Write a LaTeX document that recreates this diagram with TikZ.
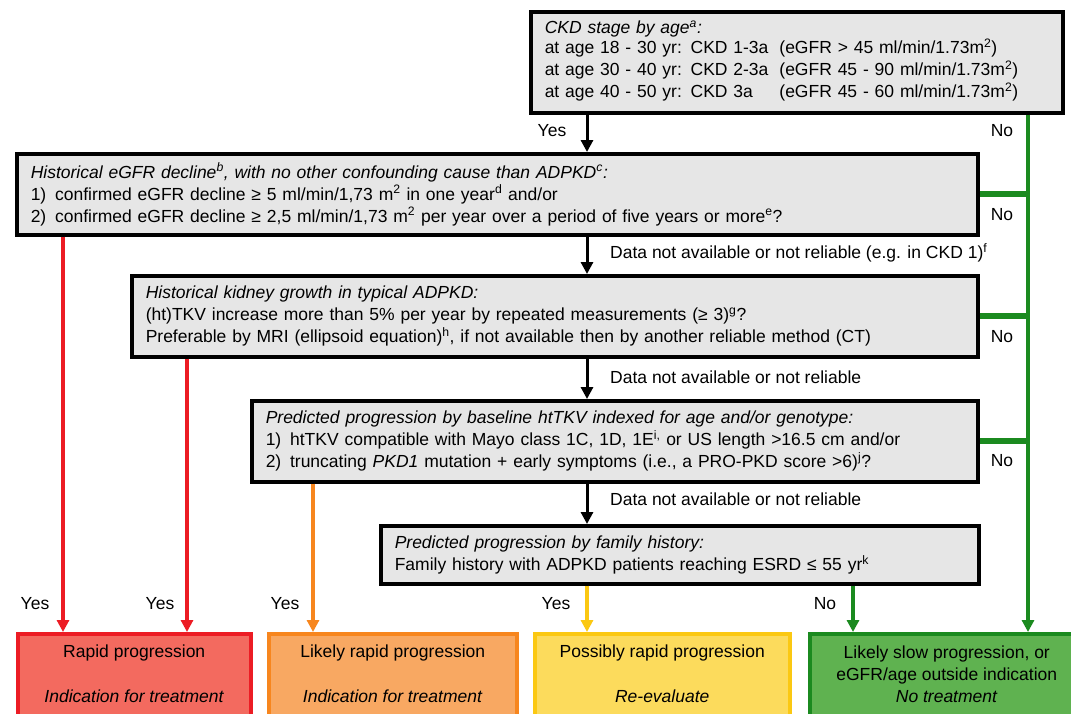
\documentclass[tikz,border=0pt]{standalone}
\usepackage{fontspec}
\setmainfont{Liberation Sans}
\usetikzlibrary{arrows.meta,positioning}
\definecolor{boxgray}{HTML}{E6E6E6}
\definecolor{redline}{HTML}{EC1C24}
\definecolor{redfill}{HTML}{F36A5F}
\definecolor{orline}{HTML}{F7861E}
\definecolor{orfill}{HTML}{F8A862}
\definecolor{yelline}{HTML}{FBC812}
\definecolor{yelfill}{HTML}{FCDB5C}
\definecolor{grline}{HTML}{1B8A1F}
\definecolor{grfill}{HTML}{5FB250}
\newcommand{\fn}[1]{\textsuperscript{#1}}
\newcommand{\lift}{\rule[-7pt]{0pt}{0pt}}

\begin{document}
\begin{tikzpicture}[x=1pt,y=-1pt,
  font=\fontsize{17.5}{22}\selectfont,
  qbox/.style={draw, line width=3.5pt, fill=boxgray, anchor=north west,
    align=left, inner xsep=14pt},
  outbox/.style={draw, line width=3.5pt, anchor=north west, align=center,
    minimum height=87pt},
  lbl/.style={inner sep=1pt},
  blk/.style={line width=3pt, -{Triangle[width=12pt,length=12pt]}},
  colarr/.style={draw=#1, line width=3.5pt, -{Triangle[width=12pt,length=12pt]}},
  branch/.style={grline, line width=6pt}]
\clip (0,0) rectangle (1071,713);
% decision boxes
\node[qbox, text width=504pt, minimum height=101pt] (ckd) at (529,10)
  {\textit{CKD stage by age\fn{a}:}\\
   \begin{tabular}{@{}l@{\hspace{11pt}}l@{}}
   at age 18 - 30 yr: CKD 1-3a & (eGFR > 45 ml/min/1.73m\fn{2})\\
   at age 30 - 40 yr: CKD 2-3a & (eGFR 45 - 90 ml/min/1.73m\fn{2})\\
   at age 40 - 50 yr: CKD 3a & (eGFR 45 - 60 ml/min/1.73m\fn{2})
   \end{tabular}};
\node[qbox, text width=933pt, minimum height=81pt] (hist) at (15,152)
  {\textit{Historical eGFR decline\fn{b}, with no other confounding cause than ADPKD\fn{c}:}\\
   1)\enspace confirmed eGFR decline ≥ 5 ml/min/1,73 m\fn{2} in one year\fn{d} and/or\\
   2)\enspace confirmed eGFR decline ≥ 2,5 ml/min/1,73 m\fn{2} per year over a period of five years or more\fn{e}?};
\node[qbox, text width=818pt, minimum height=81pt] (growth) at (130,274)
  {\textit{Historical kidney growth in typical ADPKD:}\\
   (ht)TKV increase more than 5\% per year by repeated measurements (≥ 3)\fn{g}?\\
   Preferable by MRI (ellipsoid equation)\fn{h}, if not available then by another reliable method (CT)};
\node[qbox, text width=698pt, minimum height=81pt] (baseline) at (250,399)
  {\textit{Predicted progression by baseline htTKV indexed for age and/or genotype:}\\
   1)\enspace htTKV compatible with Mayo class 1C, 1D, 1E\fn{i,} or US length >16.5 cm and/or\\
   2)\enspace truncating \textit{PKD1} mutation + early symptoms (i.e., a PRO-PKD score >6)\fn{j}?};
\node[qbox, text width=570pt, minimum height=58pt] (family) at (379,524)
  {\textit{Predicted progression by family history:}\\
   Family history with ADPKD patients reaching ESRD ≤ 55 yr\fn{k}};
% outcome boxes
\node[outbox, draw=redline, fill=redfill, minimum width=233pt] (rapid) at (16,632)
  {Rapid progression\\[23pt]\textit{Indication for treatment}\lift};
\node[outbox, draw=orline, fill=orfill, minimum width=248pt] (likely) at (267,632)
  {Likely rapid progression\\[23pt]\textit{Indication for treatment}\lift};
\node[outbox, draw=yelline, fill=yelfill, minimum width=255pt] (possibly) at (533,632)
  {Possibly rapid progression\\[23pt]\textit{Re-evaluate}\lift};
\node[outbox, draw=grline, fill=grfill, minimum width=274pt] (slow) at (808,632)
  {Likely slow progression, or\\eGFR/age outside indication\\\textit{No treatment}\lift};
% x positions of the vertical lines
\coordinate (xa) at (63,0);
\coordinate (xb) at (187,0);
\coordinate (xc) at (313,0);
\coordinate (xd) at (587,0);
\coordinate (xe) at (853,0);
\coordinate (xg) at (1028,0);
% main path
\draw[blk] (xd |- ckd.south) -- (xd |- hist.north);
\draw[blk] (xd |- hist.south) -- (xd |- growth.north);
\draw[blk] (xd |- growth.south) -- (xd |- baseline.north);
\draw[blk] (xd |- baseline.south) -- (xd |- family.north);
% yes branches
\draw[colarr=redline] (xa |- hist.south) -- (xa |- rapid.north);
\draw[colarr=redline] (xb |- growth.south) -- (xb |- rapid.north);
\draw[colarr=orline] (xc |- baseline.south) -- (xc |- likely.north);
\draw[colarr=yelline] (xd |- family.south) -- (xd |- possibly.north);
% no branches
\draw[branch] (hist.east) -- (xg |- hist.east);
\draw[branch] (growth.east) -- (xg |- growth.east);
\draw[branch] (baseline.east) -- (xg |- baseline.east);
\draw[colarr=grline] (xg |- ckd.south) -- (xg |- slow.north);
\draw[colarr=grline] (xe |- family.south) -- (xe |- slow.north);
% labels
\node[lbl] (yes0) at (552,131) {Yes};
\node[lbl] (no0) at (1002,131) {No};
\node[lbl] (no1) at (1002,215) {No};
\node[lbl] (no2) at (1002,337) {No};
\node[lbl] (no3) at (1002,461) {No};
\node[lbl, anchor=west] (na1) at (609,253) {Data not available or not reliable (e.g. in CKD 1)\fn{f}};
\node[lbl, anchor=west] (na2) at (609,377) {Data not available or not reliable};
\node[lbl, anchor=west] (na3) at (609,499) {Data not available or not reliable};
\node[lbl] (yes1) at (35,604) {Yes};
\node[lbl] (yes2) at (160,604) {Yes};
\node[lbl] (yes3) at (285,604) {Yes};
\node[lbl] (yes4) at (556,604) {Yes};
\node[lbl] (no4) at (825,604) {No};
\end{tikzpicture}
\end{document}
